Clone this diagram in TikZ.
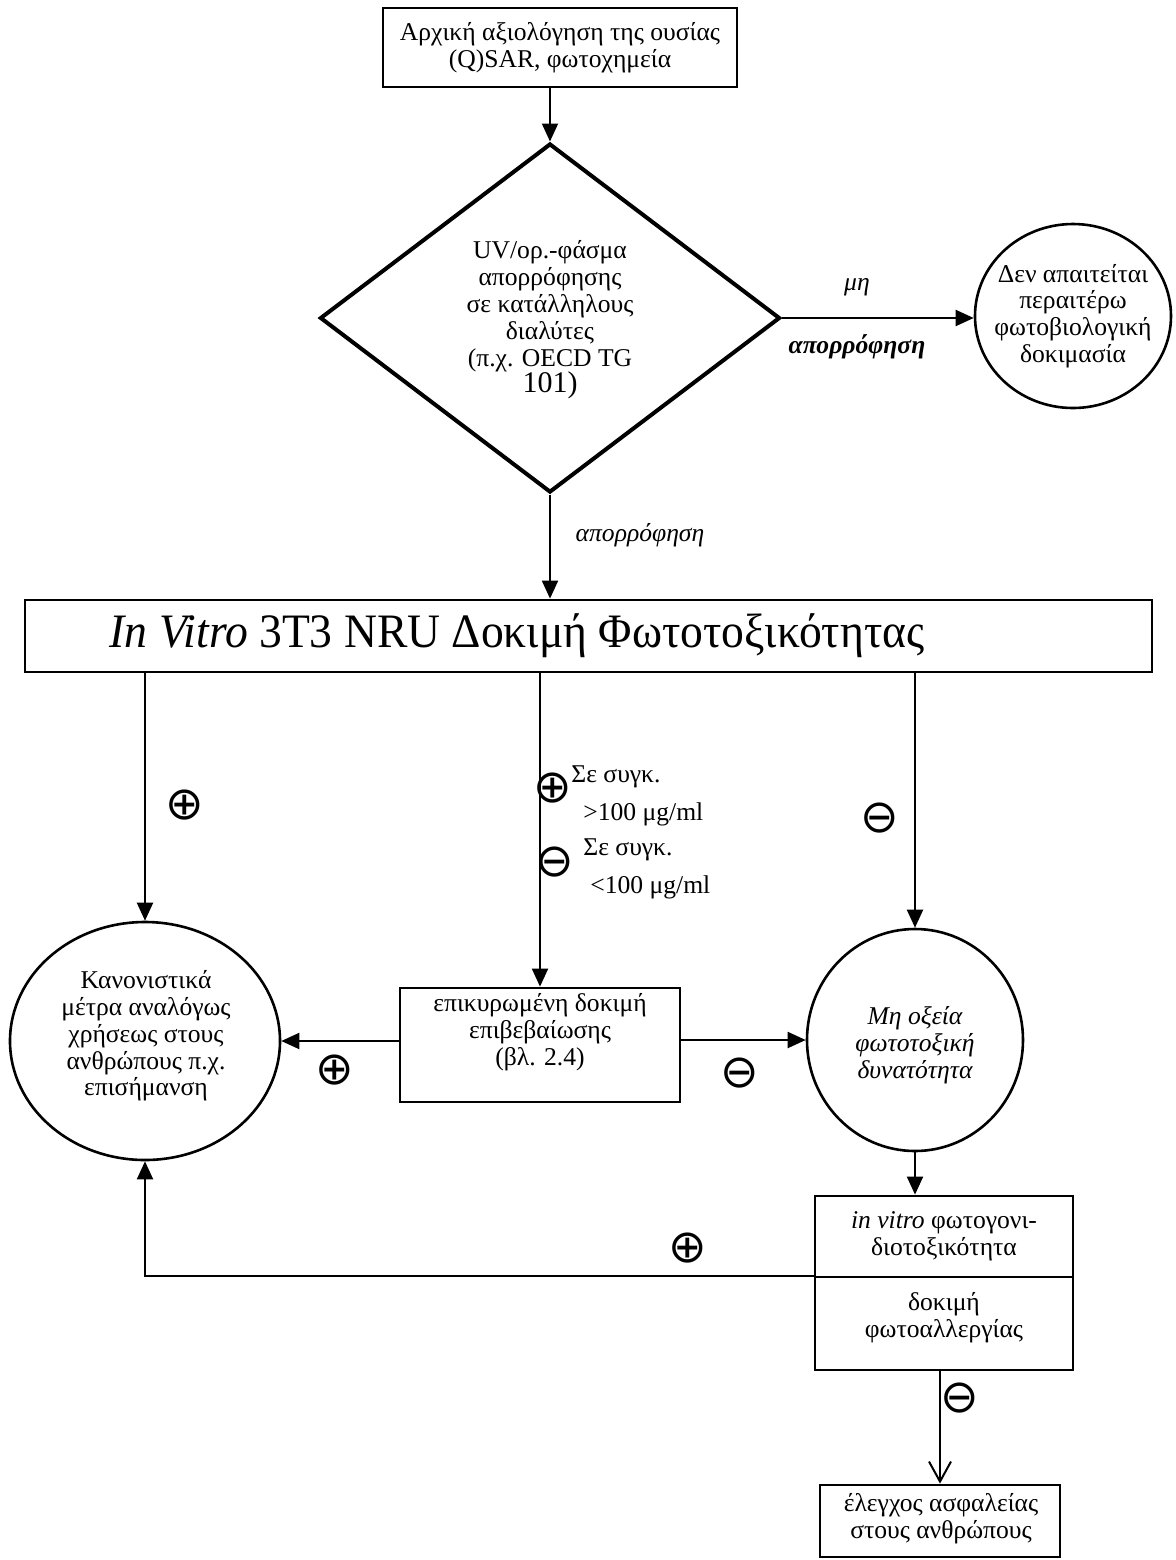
\documentclass[tikz,border=0pt]{standalone}
\usepackage{fontspec}
\setmainfont{Liberation Serif}
\newfontfamily\symf{DejaVu Sans}
\usetikzlibrary{shapes.geometric,arrows.meta}
\begin{document}
\begin{tikzpicture}[x=0.5pt,y=-0.5pt,
  conn/.style={line width=1pt,-{Triangle[length=9pt,width=8pt]}},
  openconn/.style={line width=1pt,-{Straight Barb[length=10pt,width=11pt]}},
  box/.style={draw,line width=1.4pt,rectangle,inner sep=0pt},
  ell/.style={draw,ellipse,line width=1.3pt,inner sep=0pt},
  txt/.style={align=center,inner sep=0pt,font=\fontsize{12.8}{13.4}\selectfont},
  lbl/.style={inner sep=0pt,font=\fontsize{12.8}{13.4}\selectfont\itshape},
  sym/.style={inner sep=0pt,font=\symf\fontsize{23}{23}\selectfont},
  note/.style={inner sep=0pt,anchor=west,font=\fontsize{12.8}{13.4}\selectfont}
]
\useasboundingbox (0,0) rectangle (1176,1560);
% nodes
\node[box,minimum width=177pt,minimum height=39.5pt] (top) at (560,47.5) {};
\node[txt] (toptxt) at (top) {Αρχική αξιολόγηση της ουσίας\\(Q)SAR, φωτοχημεία};

\node[draw,diamond,line width=2pt,minimum width=230pt,minimum height=174.5pt,inner sep=0pt] (dia) at (550,318) {};
\node[txt] (diatxt) at (550,320) {UV/ορ.-φάσμα\\απορρόφησης\\σε κατάλληλους\\διαλύτες\\(π.χ. OECD TG\\{\fontsize{15}{14}\selectfont 101)}};

\node[ell,minimum width=98pt,minimum height=92pt] (nof) at (1073,316) {};
\node[txt] (noftxt) at (nof) {Δεν απαιτείται\\περαιτέρω\\φωτοβιολογική\\δοκιμασία};

\node[box,minimum width=563.5pt,minimum height=36pt] (main) at (588.5,636) {};
\node[inner sep=0pt,font=\fontsize{24}{26}\selectfont] (maintxt) at (517,636) {\scalebox{0.95}[1]{\textit{In Vitro} 3T3 NRU Δοκιμή Φωτοτοξικότητας}};

\node[ell,minimum width=135pt,minimum height=119pt] (reg) at (145,1041) {};
\node[txt] (regtxt) at (146,1036) {Κανονιστικά\\μέτρα αναλόγως\\χρήσεως στους\\ανθρώπους π.χ.\\επισήμανση};

\node[box,minimum width=140pt,minimum height=57pt] (conf) at (540,1045) {};
\node[txt] (conftxt) at (540,1032) {επικυρωμένη δοκιμή\\επιβεβαίωσης\\(βλ. 2.4)};

\node[ell,minimum width=108pt,minimum height=111pt] (nonac) at (915,1040) {};
\node[txt,font=\fontsize{12.8}{13.6}\selectfont\itshape] (nonactxt) at (915,1045) {Μη οξεία\\φωτοτοξική\\δυνατότητα};

\node[box,minimum width=129pt,minimum height=40.5pt] (geno) at (944,1236.5) {};
\node[txt] (genotxt) at (geno) {\textit{in vitro} φωτογονι-\\διοτοξικότητα};
\node[box,minimum width=129pt,minimum height=46.5pt] (allerg) at (944,1323.5) {};
\node[txt] (allergtxt) at (944,1318) {δοκιμή\\φωτοαλλεργίας};

\node[box,minimum width=120pt,minimum height=36pt] (safe) at (940,1521) {};
\node[txt] (safetxt) at (941,1519) {έλεγχος ασφαλείας\\στους ανθρώπους};

% connectors
\draw[conn] (top.south -| dia.north) -- (dia.north);
\draw[conn] (dia.east) -- (nof.west |- dia.east);
\draw[conn] (dia.south) -- (main.north -| dia.south);
\draw[conn] (main.south -| reg.north) -- (reg.north);
\draw[conn] (main.south -| conf.north) -- (conf.north);
\draw[conn] (main.south -| nonac.north) -- (nonac.north);
\draw[conn] (conf.west |- reg.east) -- (reg.east);
\draw[conn] (conf.east |- nonac.west) -- (nonac.west);
\draw[conn] (nonac.south) -- (geno.north -| nonac.south);
\coordinate (corner) at (allerg.north west -| reg.south);
\draw[conn] (allerg.north west) -- (corner) -- (reg.south);
\draw[openconn] (allerg.south -| safe.north) -- (safe.north);

% labels
\node[lbl] (l1) at (857,287) {μη};
\node[lbl,font=\fontsize{12.8}{13.4}\selectfont\bfseries\itshape] (l2) at (857,347) {απορρόφηση};
\node[lbl] (l3) at (640,535) {απορρόφηση};
\node[sym] (s1) at (185,805) {⊕};
\node[sym] (s2) at (880,818) {⊖};
\node[sym] (s3) at (553,788) {⊕};
\node[note] (n1) at (571,777) {Σε συγκ.};
\node[note] (n2) at (583,814) {>100 μg/ml};
\node[sym] (s4) at (555,862) {⊖};
\node[note] (n3) at (583,850) {Σε συγκ.};
\node[note] (n4) at (590,887) {<100 μg/ml};
\node[sym] (s5) at (335,1070) {⊕};
\node[sym] (s6) at (740,1073) {⊖};
\node[sym] (s7) at (688,1248) {⊕};
\node[sym] (s8) at (960,1398) {⊖};
\end{tikzpicture}
\end{document}
